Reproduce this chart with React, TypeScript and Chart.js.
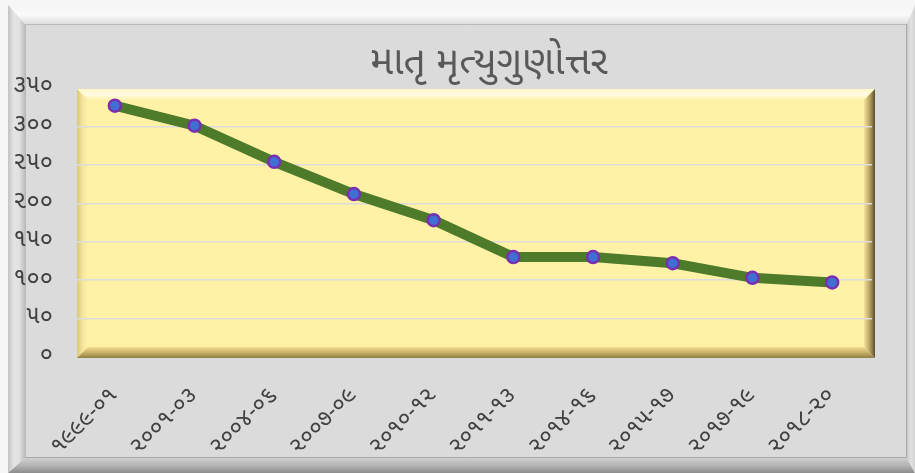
import { useEffect, useRef } from "react";
import { Chart, registerables } from "chart.js";

Chart.register(...registerables);

const titleText = "માતૃ મૃત્યુગુણોત્તર";
const periods = [
  "૧૯૯૯-૦૧",
  "૨૦૦૧-૦૩",
  "૨૦૦૪-૦૬",
  "૨૦૦૭-૦૯",
  "૨૦૧૦-૧૨",
  "૨૦૧૧-૧૩",
  "૨૦૧૪-૧૬",
  "૨૦૧૫-૧૭",
  "૨૦૧૭-૧૯",
  "૨૦૧૮-૨૦",
];
const mmrValues = [327, 301, 254, 212, 178, 130, 130, 122, 103, 97];
const yTickValues = [0, 50, 100, 150, 200, 250, 300, 350];
const yTickLabels = ["૦", "૫૦", "૧૦૦", "૧૫૦", "૨૦૦", "૨૫૦", "૩૦૦", "૩૫૦"];

const FONT = '"Noto Sans Gujarati", "Lohit Gujarati", "Shruti", "Noto Sans", sans-serif';

function poly(ctx: CanvasRenderingContext2D, pts: number[][], fill: any) {
  ctx.beginPath();
  ctx.moveTo(pts[0][0], pts[0][1]);
  for (let i = 1; i < pts.length; i++) ctx.lineTo(pts[i][0], pts[i][1]);
  ctx.closePath();
  ctx.fillStyle = fill;
  ctx.fill();
}

function lin(ctx: CanvasRenderingContext2D, x0: number, y0: number, x1: number, y1: number, stops: string[]) {
  const g = ctx.createLinearGradient(x0, y0, x1, y1);
  stops.forEach((c, i) => g.addColorStop(i / (stops.length - 1), c));
  return g;
}

const framePlugin = {
  id: "framePlugin",
  beforeDraw(chart: any) {
    const ctx: CanvasRenderingContext2D = chart.ctx;
    const W = chart.width;
    const H = chart.height;
    ctx.save();
    ctx.fillStyle = "#f6f6f6";
    ctx.fillRect(0, 0, W, H);
    const ox0 = 8, oy0 = 5, ox1 = W, oy1 = H;
    const ix0 = 25, iy0 = 24, ix1 = 907, iy1 = 458;
    poly(ctx, [[ox0, oy0], [ox1, oy0], [ix1, iy0], [ix0, iy0]], lin(ctx, 0, oy0, 0, iy0, ["#f4f4f4", "#fafafa", "#dedede"]));
    poly(ctx, [[ox0, oy0], [ix0, iy0], [ix0, iy1], [ox0, oy1]], lin(ctx, ox0, 0, ix0, 0, ["#c2c2c2", "#e4e4e4", "#e0e0e0", "#bdbdbd"]));
    poly(ctx, [[ox0, oy1], [ox1, oy1], [ix1, iy1], [ix0, iy1]], lin(ctx, 0, iy1, 0, oy1, ["#cfcfcf", "#b4b4b4", "#8c8c8c"]));
    poly(ctx, [[ox1, oy0], [ox1, oy1], [ix1, iy1], [ix1, iy0]], lin(ctx, ix1, 0, ox1, 0, ["#c9c9c9", "#e2e2e2", "#d2d2d2"]));
    ctx.fillStyle = "#dcdbdc";
    ctx.fillRect(ix0, iy0, ix1 - ix0, iy1 - iy0);
    ctx.lineWidth = 1;
    ctx.strokeStyle = "#b9b9b9";
    ctx.beginPath();
    ctx.moveTo(ix0 + 0.5, iy1);
    ctx.lineTo(ix0 + 0.5, iy0 + 0.5);
    ctx.lineTo(ix1, iy0 + 0.5);
    ctx.stroke();
    ctx.strokeStyle = "#a9a9a9";
    ctx.beginPath();
    ctx.moveTo(ix1 - 0.5, iy0);
    ctx.lineTo(ix1 - 0.5, iy1 - 0.5);
    ctx.lineTo(ix0, iy1 - 0.5);
    ctx.stroke();

    const px0 = 77, py0 = 89, px1 = 875, py1 = 358, w = 11;
    ctx.fillStyle = "#fff1a6";
    ctx.fillRect(px0, py0, px1 - px0, py1 - py0);
    poly(ctx, [[px0, py0], [px1, py0], [px1 - w, py0 + w], [px0 + w, py0 + w]], lin(ctx, 0, py0, 0, py0 + w, ["#fff6c4", "#fffbe0", "#fff2b0"]));
    poly(ctx, [[px0, py0], [px0 + w, py0 + w], [px0 + w, py1 - w], [px0, py1]], lin(ctx, px0, 0, px0 + w, 0, ["#d9c57f", "#f5e49c", "#fff1a8"]));
    poly(ctx, [[px0, py1], [px1, py1], [px1 - w, py1 - w], [px0 + w, py1 - w]], lin(ctx, 0, py1 - w, 0, py1, ["#f1dc90", "#c9b168", "#8e7d45"]));
    poly(ctx, [[px1, py0], [px1, py1], [px1 - w, py1 - w], [px1 - w, py0 + w]], lin(ctx, px1 - w, 0, px1, 0, ["#f7e39a", "#b8a566", "#5a4f2e"]));

    ctx.fillStyle = "#595959";
    ctx.font = `39px ${FONT}`;
    ctx.textAlign = "center";
    ctx.textBaseline = "alphabetic";
    ctx.fillText(titleText, 489, 74);
    ctx.restore();
  },
};

export default function App() {
  const ref = useRef<HTMLCanvasElement | null>(null);
  useEffect(() => {
    if (!ref.current) return;
    const chart = new Chart(ref.current, {
      type: "line",
      data: {
        labels: periods,
        datasets: [
          {
            data: mmrValues,
            borderColor: "#4d7b29",
            borderWidth: 10,
            pointRadius: 6,
            pointBackgroundColor: "#3f6fd3",
            pointBorderColor: "#7a2fb0",
            pointBorderWidth: 2.5,
            tension: 0,
            fill: false,
          },
        ],
      },
      options: {
        responsive: false,
        animation: false,
        devicePixelRatio: 1,
        layout: { padding: { left: 0, top: 88, right: 43, bottom: 0 } },
        plugins: { legend: { display: false }, title: { display: false }, tooltip: { enabled: false } },
        scales: {
          x: {
            type: "category",
            offset: true,
            grid: { display: false, drawTicks: false },
            border: { display: false },
            afterFit: (s: any) => {
              s.height = 473 - 357;
            },
            ticks: {
              autoSkip: false,
              maxRotation: 45,
              minRotation: 45,
              padding: 26,
              color: "#404040",
              font: { family: FONT, size: 23 },
            },
          },
          y: {
            min: 0,
            max: 350,
            afterFit: (s: any) => {
              s.width = 75;
            },
            afterBuildTicks: (s: any) => {
              s.ticks = yTickValues.map((v) => ({ value: v }));
            },
            grid: {
              drawTicks: false,
              lineWidth: 1.5,
              color: (c: any) =>
                c.tick && (c.tick.value === 0 || c.tick.value === 350) ? "rgba(0,0,0,0)" : "#dcdcdc",
            },
            border: { display: false },
            ticks: {
              padding: 22,
              color: "#404040",
              font: { family: FONT, size: 24 },
              callback: (v: any) => yTickLabels[yTickValues.indexOf(Number(v))],
            },
          },
        },
      },
      plugins: [framePlugin],
    });
    return () => chart.destroy();
  }, []);
  return (
    <div style={{ position: "fixed", left: 0, top: 0, width: 915, height: 473 }}>
      <canvas ref={ref} width={915} height={473} style={{ display: "block", width: 915, height: 473 }} />
    </div>
  );
}
